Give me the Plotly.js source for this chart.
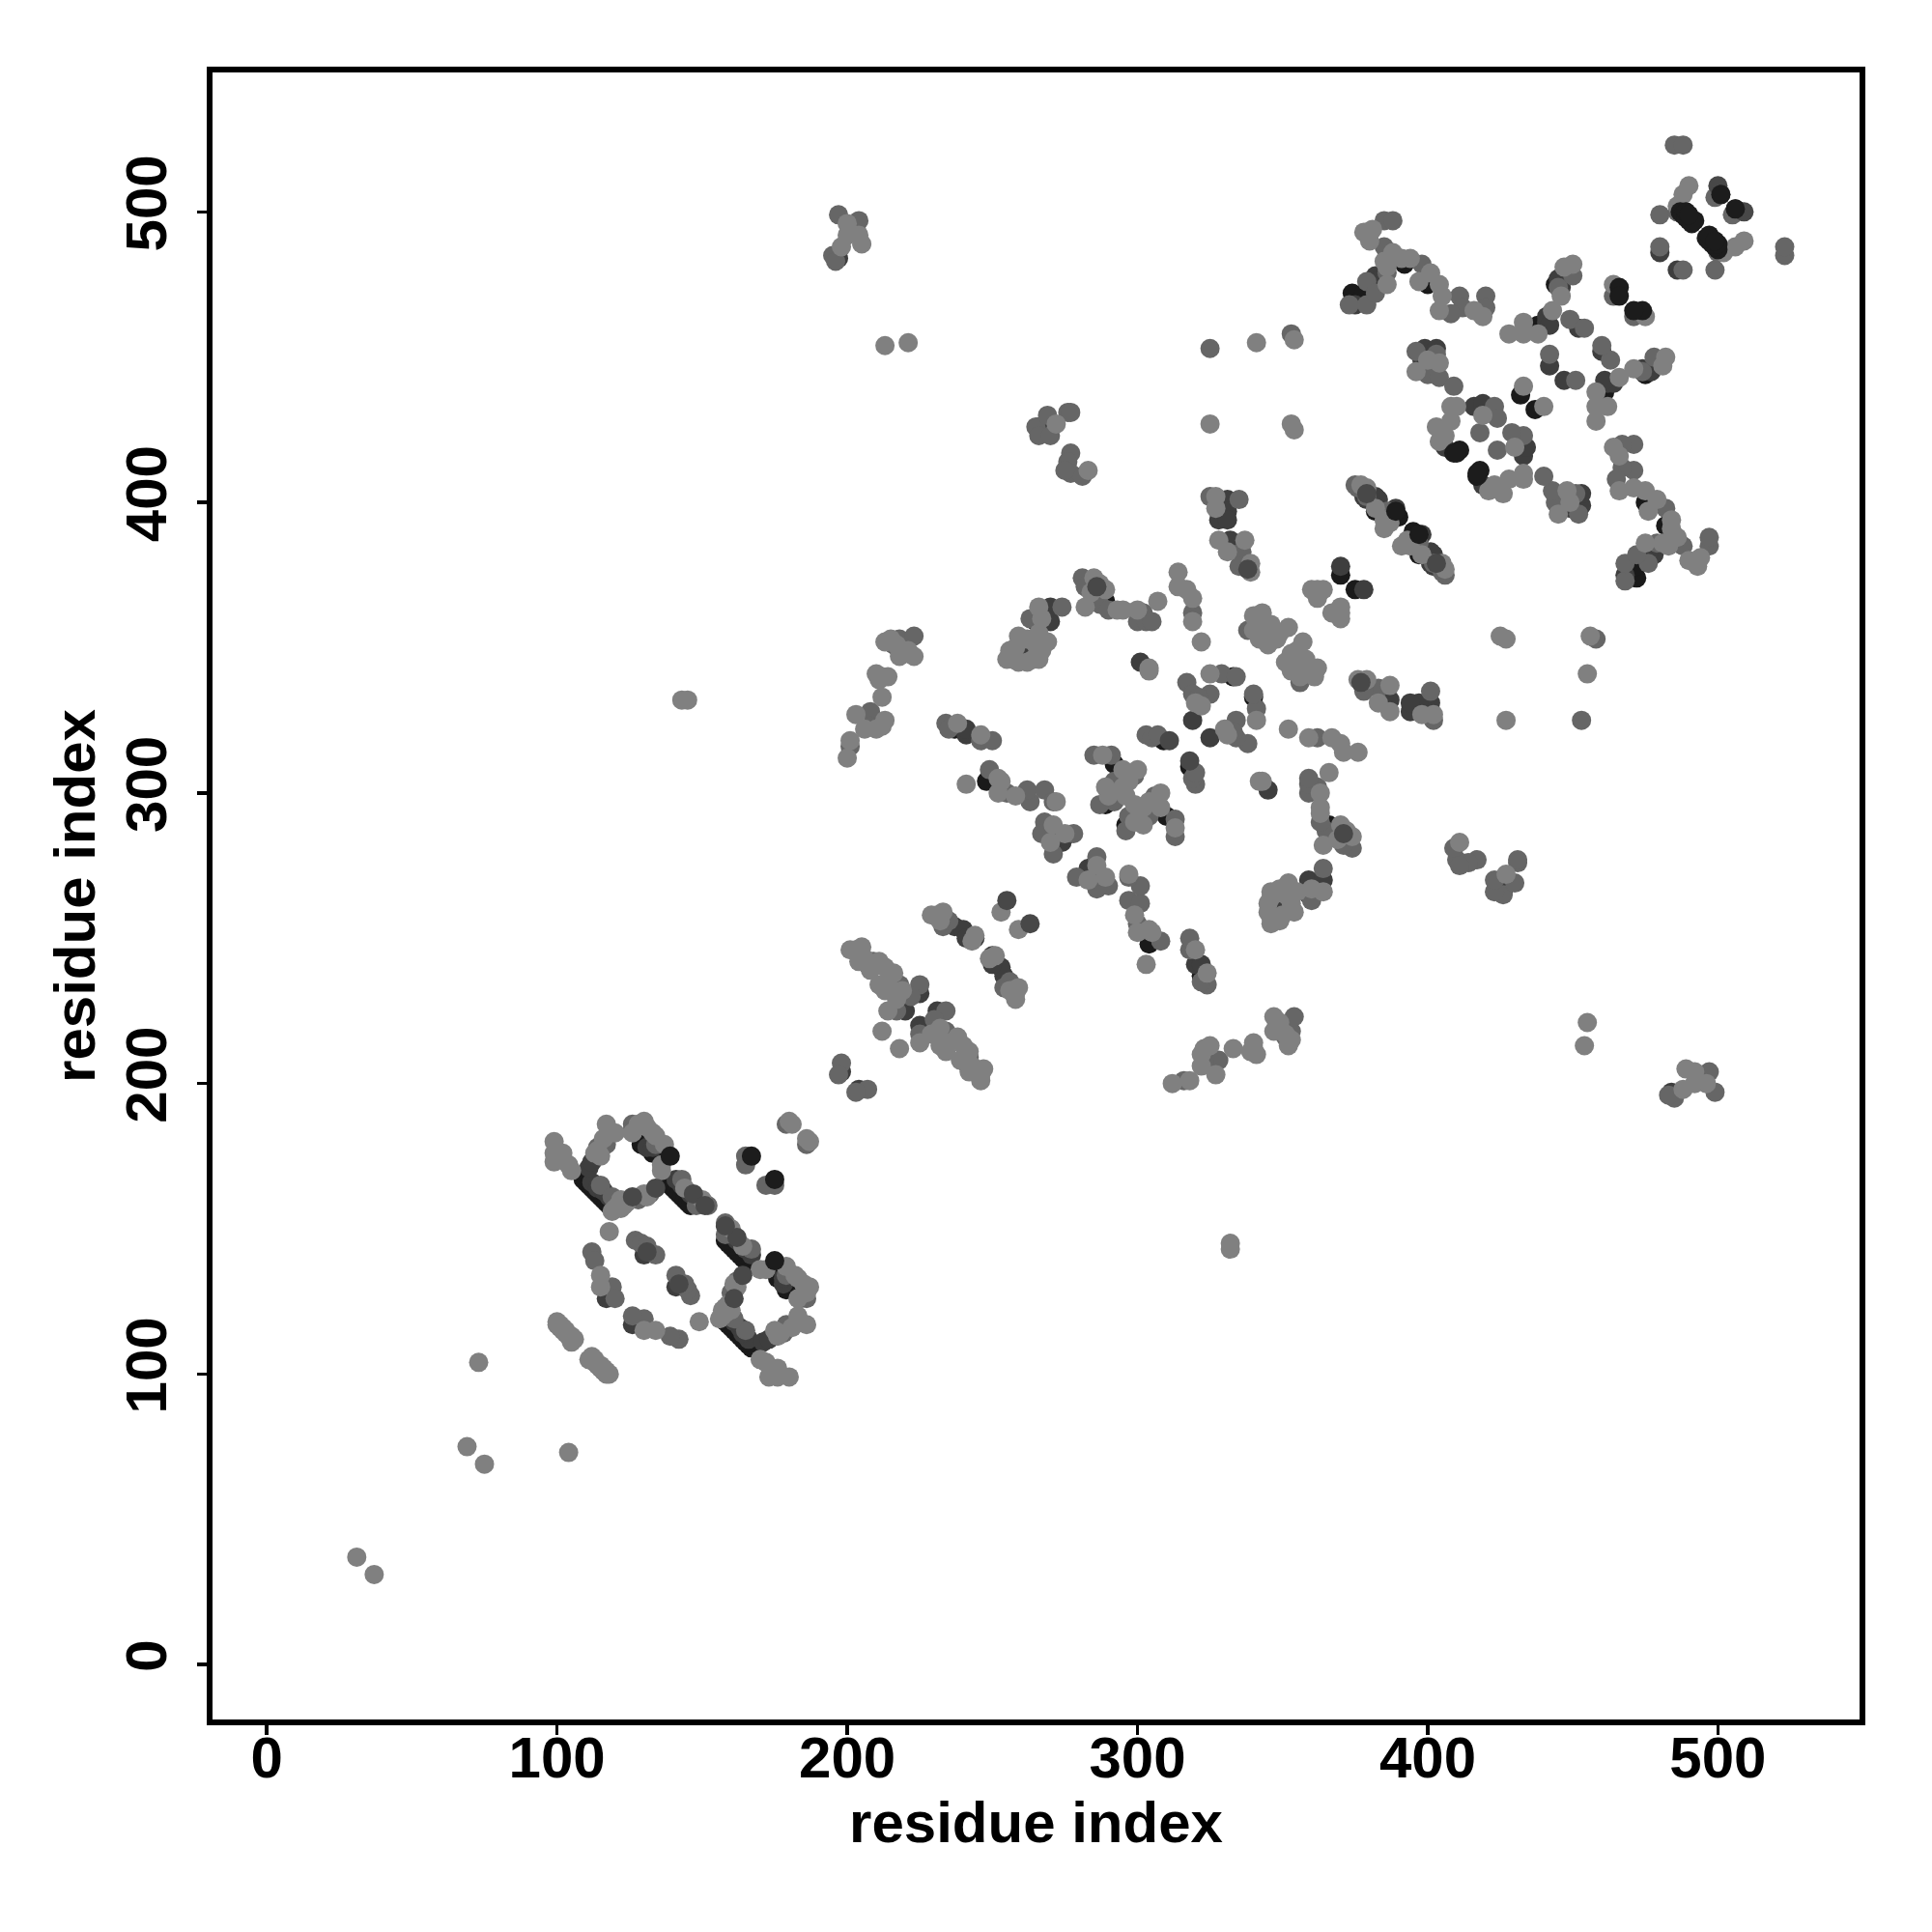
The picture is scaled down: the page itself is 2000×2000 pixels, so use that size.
<!DOCTYPE html>
<html>
<head>
<meta charset="utf-8">
<script src="https://cdn.plot.ly/plotly-3.0.1.min.js"></script>
<style>html,body{margin:0;padding:0;background:#fff}</style>
</head>
<body>
<div id="chart" style="width:2000px;height:2000px"></div>
<script>
// Residue contacts as [i, j] with i < j. The map is symmetric,
// so each contact is drawn at (i, j) and at (j, i). Arrays are grouped by grey level and draw order.
const contactsBlackUnder = [
[109,167],[110,166],[111,165],[112,164],[113,163],[114,162],[115,161],[116,160],[117,159],[118,158],
[138,166],[139,165],[140,164],[141,163],[142,162],[143,161],[144,160],[145,159],[146,158],
[129,179],[133,176],[237,322],[289,366],[265,359],[248,304],[292,310],[289,296],[333,340],[309,318],
[392,482],[400,475],[374,472],[378,472],[432,437],[444,475],[438,461],[370,375],[382,397],[390,395]
];
const contactsDarkUnder = [
[112,166],[114,164],[116,163],[118,161],[120,159],[111,171],[112,173],[131,178],[133,178],
[141,167],[143,165],[146,162],[148,160],[130,141],[116,130],[117,126],[198,204],[225,231],[219,226],[220,225],
[237,254],[240,253],[241,250],[244,250],[270,286],[274,283],[275,285],[241,320],[241,322],[284,371],[262,349],
[270,359],[270,364],[197,484],[266,426],[331,401],[331,397],[328,394],[331,394],[332,387],[370,378],
[379,401],[383,401],[398,389],[398,383],[402,382],[402,378],[375,468],[382,478],[382,476],[399,453],[403,453],
[398,449],[406,419],[416,433],[441,464],[441,462],[442,461],[445,477],[446,474],[452,460],[442,447],[419,434],
[480,486],[501,506],[319,325],[301,345]
];
const contactsMid = [
[114,178],[116,180],[117,179],[126,186],[126,184],[134,179],[128,160],[132,162],[148,158],[152,158],
[115,165],[119,161],[143,167],[149,160],
[127,146],[129,145],[131,144],[134,141],[112,142],[113,139],[119,130],[120,126],[165,175],[165,172],[179,186],
[198,207],[197,203],[209,242],[207,241],[218,234],[225,234],[222,230],[217,225],[233,254],[235,256],
[268,290],[267,286],[278,286],[271,279],[263,297],[262,301],[268,301],[255,300],[249,308],[271,297],
[201,316],[208,328],[208,323],[218,353],[223,354],[218,349],[263,360],[274,364],[216,351],
[234,324],[246,318],[250,318],[235,322],[281,374],[282,371],[287,365],[290,363],[302,362],[300,359],[303,359],[305,359],
[285,313],[291,313],[299,306],[292,297],[287,296],[292,304],[197,499],[204,497],[195,485],[196,483],
[277,417],[276,414],[277,410],[281,409],[275,411],[265,426],[266,423],[270,423],[269,430],[276,431],[277,431],
[325,402],[335,401],[336,383],[335,378],[319,362],[317,338],[319,334],[325,334],[321,333],[329,341],[334,340],
[303,320],[305,319],[307,320],[376,405],[386,397],[406,375],[402,379],[325,453],[353,458],[373,468],[379,468],
[379,476],[382,472],[386,479],[385,497],[388,497],[385,488],[398,482],[411,471],[412,467],[420,471],[420,467],[408,465],
[396,452],[400,444],[404,443],[403,451],[409,440],[423,433],[424,429],[418,424],[480,499],[480,488],[499,505],
[485,523],[488,523],[486,500],[464,471],[445,474],[450,478],[449,463],[454,460],[442,451],[345,354],[338,356]
];
const contactsLight = [
[99,180],[99,176],[102,176],[99,173],[101,174],[104,172],[105,170],[117,186],[118,183],[120,183],[116,181],
[113,176],[114,177],[115,175],[119,156],[120,157],[121,158],[122,157],[123,158],[122,160],[124,159],[130,162],[131,161],
[126,183],[128,186],[130,187],[131,185],[133,183],[134,182],[137,179],[136,172],[136,170],[144,164],[150,160],
[118,149],[115,134],[115,130],[100,118],[100,117],[101,117],[101,116],[102,116],[102,115],[103,115],[103,114],
[104,113],[105,113],[106,112],[105,111],[180,187],[181,186],[31,37],[73,104],[69,75],
[201,246],[203,246],[205,247],[204,242],[206,243],[211,242],[213,240],[208,239],[216,238],[211,234],[214,234],[213,232],
[219,232],[217,229],[214,225],[212,218],[229,258],[231,258],[233,259],[232,256],[244,251],[243,249],[253,259],
[270,283],[275,286],[271,289],[252,305],[253,304],[252,300],[272,297],[258,299],[200,312],[201,318],[203,327],
[212,323],[213,325],[210,322],[206,322],[212,333],[210,341],[212,340],[214,340],[211,339],[213,352],[215,353],[217,351],
[223,347],[218,347],[221,349],[220,348],[238,324],[246,320],[255,346],[257,346],[259,345],[262,345],[264,346],[266,346],
[256,349],[258,350],[259,354],[262,353],[265,351],[269,352],[267,349],[266,355],[266,364],[267,360],[285,374],[287,372],
[289,370],[282,364],[284,369],[293,363],[295,363],[300,363],[307,366],[288,313],[289,302],[290,299],[295,308],[300,308],
[295,302],[297,304],[296,299],[304,342],[304,343],[283,411],[241,303],[200,496],[200,492],[204,492],[205,489],[198,488],[213,454],[221,455],
[272,427],[143,332],[145,332],[314,376],[314,371],[317,370],[319,367],[319,359],[322,352],[328,387],[327,402],[327,398],[337,387],[331,383],
[339,379],[339,376],[338,377],[340,361],[343,362],[346,358],[349,355],[352,357],[340,356],[342,353],[345,351],[348,353],[344,357],
[360,370],[362,370],[364,370],[362,367],[379,405],[387,393],[394,385],[398,382],[406,377],[385,391],[325,341],[322,330],[320,331],
[341,455],[354,456],[325,427],[353,427],[354,425],[378,493],[381,494],[380,490],[386,475],[388,486],[385,483],[386,481],[391,484],
[394,484],[401,479],[397,476],[404,475],[405,471],[404,466],[416,466],[419,464],[396,445],[404,448],[400,449],[410,433],[408,433],
[408,428],[403,426],[406,423],[404,421],[419,430],[433,440],[428,458],[433,462],[433,458],[438,458],[443,466],[446,471],[447,481],
[450,482],[490,509],[488,506],[486,502],[464,475]
];
const contactsDarkTop = [
[126,161],[134,164],[147,162],[151,158],[131,142],[255,263],[311,318],[500,509],[286,371],[338,377],[403,379]
];
const contactsBlackTop = [
[139,175],[167,175],[466,474],[466,471],[389,397],[411,418],[409,417],[410,417],
[487,500],[488,499],[489,498],[490,497],[491,496],[492,497],[489,500],[490,499],[501,506]
];
const layers = [
  [contactsBlackUnder, '#1a1a1a'],
  [contactsDarkUnder, '#3e3e3e'],
  [contactsMid, '#666666'],
  [contactsLight, '#808080'],
  [contactsDarkTop, '#484848'],
  [contactsBlackTop, '#1c1c1c']
];
const tickValues = [0, 100, 200, 300, 400, 500];
const axisLabel = 'residue index';

const traces = layers.map(([pairs, colour]) => ({
  type: 'scatter', mode: 'markers',
  x: pairs.map(p => p[0]).concat(pairs.map(p => p[1])),
  y: pairs.map(p => p[1]).concat(pairs.map(p => p[0])),
  marker: {size: 20, color: colour, line: {width: 0}},
  hoverinfo: 'skip'
}));

const font = {family: '"Liberation Sans", Arial, sans-serif', size: 60, color: '#000', weight: 'bold'};
const axis = {
  autorange: false, tickmode: 'array', tickvals: tickValues,
  ticktext: tickValues.map(String), ticks: 'outside', ticklen: 10, tickwidth: 3.5, tickcolor: '#000',
  showline: true, linecolor: '#000', linewidth: 6, mirror: true, showgrid: false, zeroline: false,
  tickfont: font
};
Plotly.newPlot('chart', traces, {
  width: 2000, height: 2000, showlegend: false,
  paper_bgcolor: '#fff', plot_bgcolor: '#fff',
  margin: {l: 220, r: 75, t: 75, b: 220, pad: 0},
  xaxis: Object.assign({}, axis, {range: [-18.7, 548.8], title: {text: axisLabel, font: font, standoff: 6}, ticklabelstandoff: -28}),
  yaxis: Object.assign({}, axis, {range: [-18.9, 548], title: {text: axisLabel, font: font, standoff: 2}, tickangle: -90, ticklabelstandoff: 8})
}, {displayModeBar: false, staticPlot: true});
</script>
</body>
</html>
